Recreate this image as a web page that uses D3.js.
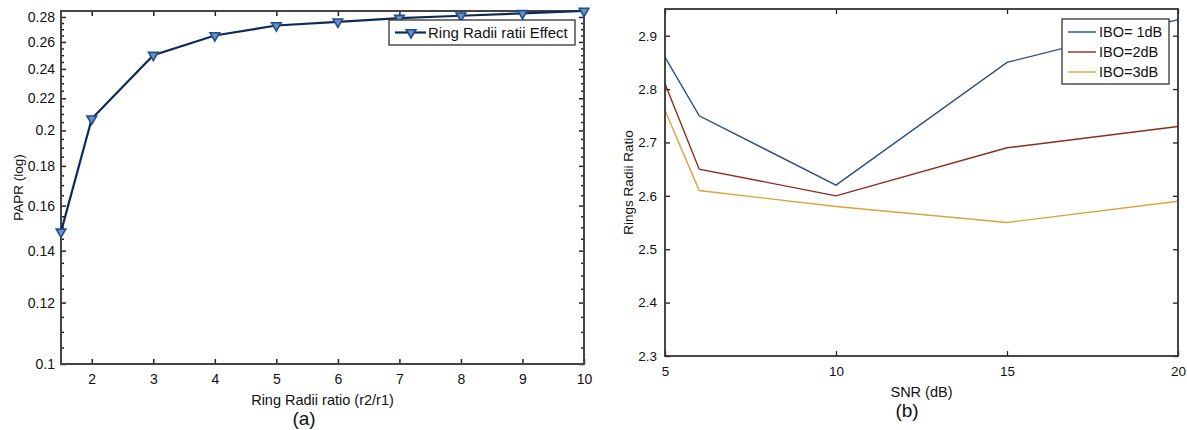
<!DOCTYPE html>
<html>
<head>
<meta charset="utf-8">
<script src="https://cdn.jsdelivr.net/npm/d3@7"></script>
<style>
  body { margin: 0; background: #fff; }
  svg text { font-family: "Liberation Sans", Arial, sans-serif; fill: #111; }
</style>
</head>
<body>
<svg id="chart" width="1187" height="430"></svg>
<script>
// panel (a)
const ratios = [1.5, 2, 3, 4, 5, 6, 7, 8, 9, 10];
const papr = [0.148, 0.207, 0.250, 0.265, 0.273, 0.276, 0.279, 0.281, 0.283, 0.285];
const paprTicks = [0.1, 0.12, 0.14, 0.16, 0.18, 0.2, 0.22, 0.24, 0.26, 0.28];
const ratioTicks = [2, 3, 4, 5, 6, 7, 8, 9, 10];

// panel (b)
const snr = [5, 6, 10, 15, 20];
const ibo1 = [2.86, 2.75, 2.62, 2.85, 2.93];
const ibo2 = [2.81, 2.65, 2.60, 2.69, 2.73];
const ibo3 = [2.76, 2.61, 2.58, 2.55, 2.59];
const iboNames = ['IBO= 1dB', 'IBO=2dB', 'IBO=3dB'];
const iboColors = ['#2b4f80', '#8c2c1c', '#d9a43c'];
const snrTicks = [5, 10, 15, 20];
const rrTicks = [2.3, 2.4, 2.5, 2.6, 2.7, 2.8, 2.9];

const svg = d3.select('#chart');

// ---------- (a) ----------
const A = { l: 61, r: 584, t: 11, b: 364 };
const xa = d3.scaleLinear().domain([1.5, 10]).range([A.l, A.r]);
const ya = d3.scaleLog().domain([0.1, 0.285]).range([A.b, A.t]);
const ga = svg.append('g');

const minorA = d3.range(0.105, 0.285, 0.005).filter(v => !paprTicks.some(t => Math.abs(t - v) < 1e-6));

function frame(g, box, col, w) {
  g.append('rect').attr('x', box.l).attr('y', box.t)
    .attr('width', box.r - box.l).attr('height', box.b - box.t)
    .attr('fill', 'none').attr('stroke', col).attr('stroke-width', w);
}

// inward ticks on all sides
ga.append('g').attr('transform', `translate(0,${A.b})`)
  .call(d3.axisBottom(xa).tickValues(ratioTicks).tickSizeInner(-5).tickSizeOuter(0).tickPadding(10))
  .call(g => g.select('.domain').remove());
ga.append('g').attr('transform', `translate(0,${A.t})`)
  .call(d3.axisTop(xa).tickValues(ratioTicks).tickSizeInner(-5).tickSizeOuter(0).tickFormat(''))
  .call(g => g.select('.domain').remove());
ga.append('g').attr('transform', `translate(${A.l},0)`)
  .call(d3.axisLeft(ya).tickValues(paprTicks).tickFormat(d3.format('~g')).tickSizeInner(-5).tickSizeOuter(0).tickPadding(6))
  .call(g => g.select('.domain').remove());
ga.append('g').attr('transform', `translate(${A.r},0)`)
  .call(d3.axisRight(ya).tickValues(paprTicks).tickSizeInner(-5).tickSizeOuter(0).tickFormat(''))
  .call(g => g.select('.domain').remove());
ga.append('g').attr('transform', `translate(${A.l},0)`)
  .call(d3.axisLeft(ya).tickValues(minorA).tickSizeInner(-3).tickSizeOuter(0).tickFormat(''))
  .call(g => g.select('.domain').remove());
ga.append('g').attr('transform', `translate(${A.r},0)`)
  .call(d3.axisRight(ya).tickValues(minorA).tickSizeInner(-3).tickSizeOuter(0).tickFormat(''))
  .call(g => g.select('.domain').remove());
ga.selectAll('.tick line').attr('stroke', '#222').attr('stroke-width', 1.5);
ga.selectAll('.tick text').attr('font-size', 14).attr('fill', '#111');
frame(ga, A, '#444', 2);

const lineA = d3.line().x((d, i) => xa(ratios[i])).y(d => ya(d));
ga.append('path').datum(papr).attr('d', lineA)
  .attr('fill', 'none').attr('stroke', '#0c2a55').attr('stroke-width', 2.2);

const tri = d3.symbol().type(d3.symbolTriangle).size(40);
ga.selectAll('.mk').data(papr).join('path')
  .attr('class', 'mk').attr('d', tri)
  .attr('transform', (d, i) => `translate(${xa(ratios[i])},${ya(d)}) rotate(180)`)
  .attr('fill', '#6d8fc0').attr('stroke', '#1d4f91').attr('stroke-width', 1.6);

// legend (a)
const la = ga.append('g').attr('transform', 'translate(389,20)');
la.append('rect').attr('width', 186).attr('height', 25).attr('fill', '#fff').attr('stroke', '#333').attr('stroke-width', 1.3);
la.append('line').attr('x1', 6).attr('x2', 37).attr('y1', 12.5).attr('y2', 12.5)
  .attr('stroke', '#0c2a55').attr('stroke-width', 2.2);
la.append('path').attr('d', tri).attr('transform', 'translate(22,12.5) rotate(180)')
  .attr('fill', '#6d8fc0').attr('stroke', '#1d4f91').attr('stroke-width', 1.6);
la.append('text').attr('x', 39).attr('y', 18).attr('font-size', 15).text('Ring Radii ratii Effect');

ga.append('text').attr('transform', `translate(23,${(A.t + A.b) / 2}) rotate(-90)`)
  .attr('text-anchor', 'middle').attr('font-size', 13.5).text('PAPR (log)');
ga.append('text').attr('x', (A.l + A.r) / 2).attr('y', 405)
  .attr('text-anchor', 'middle').attr('font-size', 14.5).text('Ring Radii ratio (r2/r1)');
ga.append('text').attr('x', 304).attr('y', 425)
  .attr('text-anchor', 'middle').attr('font-size', 19).text('(a)');

// ---------- (b) ----------
const B = { l: 665, r: 1178, t: 9, b: 356 };
const xb = d3.scaleLinear().domain([5, 20]).range([B.l, B.r]);
const yb = d3.scaleLinear().domain([2.3, 2.95]).range([B.b, B.t]);
const gb = svg.append('g');

gb.append('g').attr('transform', `translate(0,${B.b})`)
  .call(d3.axisBottom(xb).tickValues(snrTicks).tickSizeInner(-5).tickSizeOuter(0).tickPadding(10))
  .call(g => g.select('.domain').remove());
gb.append('g').attr('transform', `translate(0,${B.t})`)
  .call(d3.axisTop(xb).tickValues(snrTicks).tickSizeInner(-5).tickSizeOuter(0).tickFormat(''))
  .call(g => g.select('.domain').remove());
gb.append('g').attr('transform', `translate(${B.l},0)`)
  .call(d3.axisLeft(yb).tickValues(rrTicks).tickFormat(d3.format('.1f')).tickSizeInner(-5).tickSizeOuter(0).tickPadding(8))
  .call(g => g.select('.domain').remove());
gb.append('g').attr('transform', `translate(${B.r},0)`)
  .call(d3.axisRight(yb).tickValues(rrTicks).tickSizeInner(-5).tickSizeOuter(0).tickFormat(''))
  .call(g => g.select('.domain').remove());
gb.selectAll('.tick line').attr('stroke', '#222').attr('stroke-width', 1.3);
gb.selectAll('.tick text').attr('font-size', 13.5).attr('fill', '#111');

const series = [ibo1, ibo2, ibo3];
const lineB = d3.line().x((d, i) => xb(snr[i])).y(d => yb(d));
gb.selectAll('.ser').data(series).join('path')
  .attr('class', 'ser').attr('d', lineB)
  .attr('fill', 'none').attr('stroke', (d, i) => iboColors[i]).attr('stroke-width', 1.4);
frame(gb, B, '#333', 1.8);

const lb = gb.append('g').attr('transform', 'translate(1062,19)');
lb.append('rect').attr('width', 107).attr('height', 65).attr('fill', '#fff').attr('stroke', '#333').attr('stroke-width', 1.3);
iboNames.forEach((n, i) => {
  const y = 13 + i * 20;
  lb.append('line').attr('x1', 6).attr('x2', 34).attr('y1', y).attr('y2', y)
    .attr('stroke', iboColors[i]).attr('stroke-width', 1.4);
  lb.append('text').attr('x', 37).attr('y', y + 5).attr('font-size', 14.5).text(n);
});

gb.append('text').attr('transform', `translate(633,${(B.t + B.b) / 2}) rotate(-90)`)
  .attr('text-anchor', 'middle').attr('font-size', 13.5).text('Rings Radii Ratio');
gb.append('text').attr('x', (B.l + B.r) / 2).attr('y', 397)
  .attr('text-anchor', 'middle').attr('font-size', 14.5).text('SNR (dB)');
gb.append('text').attr('x', 907).attr('y', 417)
  .attr('text-anchor', 'middle').attr('font-size', 19).text('(b)');
</script>
</body>
</html>
